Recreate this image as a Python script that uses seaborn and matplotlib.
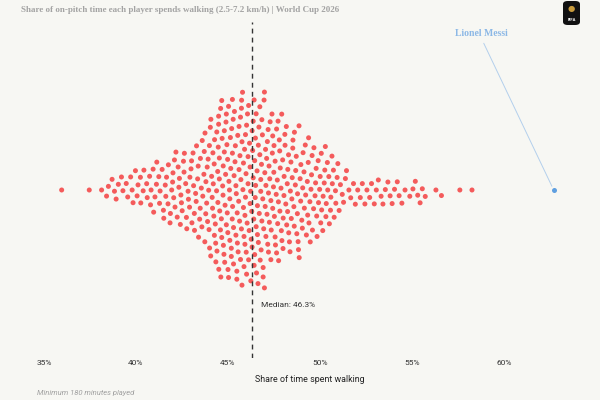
import numpy as np
import seaborn as sns
import matplotlib.pyplot as plt
from matplotlib.patches import FancyBboxPatch

# share of on-pitch time spent walking (%), one value per player
walk_share = [
    35.96, 37.46, 38.13, 38.40, 38.50, 38.70, 38.83, 38.92,
    39.04, 39.21, 39.29, 39.47, 39.55, 39.71, 39.79, 39.84, 39.97,
    40.06, 40.11, 40.24, 40.26, 40.39, 40.43, 40.58, 40.61, 40.74,
    40.79, 40.82, 40.93, 40.96,
    41.03, 41.11, 41.13, 41.24, 41.28, 41.31, 41.42, 41.49,
    41.51, 41.59, 41.62, 41.66, 41.74, 41.76, 41.85, 41.87, 41.94, 41.99,
    42.01, 42.05, 42.09, 42.12, 42.17, 42.24, 42.29, 42.33, 42.36, 42.41,
    42.44, 42.47,
    42.51, 42.58, 42.61, 42.63, 42.70, 42.74,
    42.76, 42.83, 42.85, 42.91, 42.93, 42.99,
    43.02, 43.04, 43.10, 43.13, 43.17, 43.18, 43.24,
    43.27, 43.29, 43.35, 43.38, 43.40, 43.46, 43.49,
    43.50, 43.55, 43.58, 43.60, 43.63, 43.69, 43.71, 43.74,
    43.75, 43.79, 43.80, 43.84, 43.87, 43.89, 43.92, 43.95, 43.97, 43.99,
    44.00, 44.04, 44.06, 44.07, 44.11, 44.14, 44.16, 44.18, 44.20, 44.23, 44.25,
    44.26, 44.27, 44.31, 44.33, 44.34, 44.38, 44.39, 44.40, 44.44, 44.45,
    44.47, 44.49, 44.49,
    44.50, 44.53, 44.53, 44.55, 44.59, 44.60, 44.61, 44.64, 44.66, 44.66,
    44.68, 44.71, 44.73, 44.74,
    44.75, 44.78, 44.80, 44.80, 44.82, 44.84, 44.87, 44.89, 44.91, 44.91,
    44.94, 44.96, 44.98, 44.99,
    45.00, 45.03, 45.03, 45.05, 45.08, 45.10, 45.10, 45.13, 45.15, 45.18,
    45.18, 45.20, 45.23, 45.24, 45.24,
    45.25, 45.28, 45.30, 45.30, 45.33, 45.35, 45.38, 45.40, 45.43, 45.43,
    45.45, 45.48, 45.48, 45.50,
    45.51, 45.53, 45.55, 45.58, 45.60, 45.60, 45.63, 45.65, 45.68, 45.68,
    45.70, 45.73, 45.73, 45.74,
    45.76, 45.76, 45.79, 45.81, 45.84, 45.84, 45.87, 45.87, 45.90, 45.92,
    45.92, 45.95, 45.95, 45.98, 45.99,
    46.01, 46.01, 46.04, 46.06, 46.09, 46.09, 46.12, 46.12, 46.15, 46.17,
    46.20, 46.20, 46.23, 46.24,
    46.26, 46.29, 46.31, 46.31, 46.34, 46.37, 46.37, 46.40,
    46.42, 46.42, 46.45, 46.45, 46.48, 46.49,
    46.50, 46.53, 46.53, 46.55, 46.58, 46.60, 46.60, 46.63, 46.65, 46.65,
    46.68, 46.70, 46.73, 46.73, 46.75,
    46.78, 46.78, 46.80, 46.82, 46.84, 46.84, 46.87, 46.89, 46.91, 46.91,
    46.94, 46.96, 46.98, 46.98,
    47.00, 47.02, 47.04, 47.06, 47.06, 47.10, 47.12, 47.14, 47.16, 47.18,
    47.20, 47.20, 47.23,
    47.25, 47.27, 47.29, 47.33, 47.33, 47.35, 47.39, 47.41, 47.43, 47.43,
    47.47, 47.49,
    47.50, 47.52, 47.56, 47.56, 47.58, 47.62, 47.64, 47.64, 47.68, 47.70,
    47.72, 47.74,
    47.75, 47.79, 47.81, 47.82, 47.84, 47.88, 47.90, 47.92, 47.93, 47.97, 47.99,
    48.00, 48.04, 48.05, 48.09, 48.10, 48.14, 48.17, 48.19, 48.22, 48.24,
    48.25, 48.29, 48.30, 48.34, 48.37, 48.39, 48.42, 48.44, 48.47, 48.49,
    48.52, 48.53, 48.58, 48.60, 48.61, 48.66, 48.68, 48.71, 48.74,
    48.77, 48.78, 48.81, 48.83, 48.86, 48.87, 48.92, 48.95, 48.96,
    49.01, 49.04, 49.06, 49.08, 49.13, 49.15, 49.20, 49.22,
    49.26, 49.31, 49.33, 49.36, 49.38, 49.40, 49.45, 49.47,
    49.51, 49.54, 49.57, 49.59, 49.65, 49.67, 49.73,
    49.76, 49.79, 49.82, 49.84, 49.90, 49.92, 49.98,
    50.01, 50.04, 50.07, 50.09, 50.15, 50.17, 50.23,
    50.26, 50.29, 50.32, 50.34, 50.40, 50.42, 50.48,
    50.51, 50.57, 50.59, 50.65, 50.67, 50.73,
    50.77, 50.84, 50.86, 50.93, 50.97,
    51.04, 51.11, 51.21, 51.28, 51.38, 51.44, 51.57, 51.67, 51.82, 51.92,
    52.05, 52.19, 52.30, 52.44, 52.55, 52.70, 52.80, 52.95,
    53.06, 53.17, 53.32, 53.42, 53.55, 53.69, 53.81, 53.92,
    54.05, 54.20, 54.30, 54.45, 54.62, 54.88,
    55.05, 55.18, 55.31, 55.44, 55.56, 55.72,
    56.30, 56.60, 57.60, 58.26,
]
messi_share = 62.7
median_share = 46.3
tick_values = [35, 40, 45, 50, 55, 60]
tick_labels = ['35%', '40%', '45%', '50%', '55%', '60%']

BG = '#f7f7f3'
RED = '#f45b5b'
BLUE = '#5f9fe0'

sns.set_theme(style='white')
plt.rcParams['font.family'] = ['Roboto', 'DejaVu Sans']

fig = plt.figure(figsize=(6, 4), dpi=100, facecolor=BG)
ax = fig.add_axes([0, 42 / 400, 1, 336 / 400], facecolor=BG)

# swarm of players; the edge width only widens the spacing between dots
sns.swarmplot(x=walk_share, ax=ax, color=RED, size=3.6, linewidth=1.9,
              edgecolor='none', zorder=3)
sns.scatterplot(x=[messi_share], y=[0], ax=ax, color=BLUE, s=3.6 ** 2,
                linewidth=0, zorder=3)

ax.set_xlim(32.609, 65.217)
ax.set_ylim(0.5, -0.5)

# median line
ax.axvline(median_share, color='#333333', lw=1, ls=(0, (3.5, 3)), zorder=5)
ax.text(median_share + 0.5, 0.158, f'Median: {median_share}%',
        transform=ax.get_xaxis_transform(), fontsize=6, color='#333333',
        va='center', ha='left')

# Messi label
ax.annotate('Lionel Messi', xy=(messi_share, 0), xycoords='data',
            xytext=(481, 367), textcoords='figure pixels',
            ha='center', va='center', fontsize=7, fontweight='bold',
            family='Liberation Serif', color='#8cb8e6',
            arrowprops=dict(arrowstyle='-', color='#b3cfec', lw=0.7,
                            shrinkA=2, shrinkB=3, relpos=(0.5, 0)))

ax.set_xticks(tick_values)
ax.set_xticklabels(tick_labels)
ax.tick_params(axis='x', length=0, pad=1.5, labelsize=6, labelcolor='#333333')
ax.set_yticks([])
ax.set_xlabel('Share of time spent walking', fontsize=6.4, color='#222222')
ax.xaxis.set_label_coords(0.516, -0.05)
for s in ax.spines.values():
    s.set_visible(False)

fig.text(21 / 600, 1 - 10 / 400,
         'Share of on-pitch time each player spends walking (2.5-7.2 km/h) | World Cup 2026',
         fontsize=6.5, fontweight='bold', family='Liberation Serif',
         color='#a3a3a3', va='center', ha='left')
fig.text(37 / 600, 1 - 393 / 400, 'Minimum 180 minutes played',
         fontsize=5.5, style='italic', color='#a0a0a0', va='center', ha='left')

# small tournament badge, top right
badge = FancyBboxPatch((563 / 600, 1 - 25 / 400), 17 / 600, 24 / 400,
                       boxstyle='round,pad=0,rounding_size=0.008',
                       transform=fig.transFigure, facecolor='#111111',
                       edgecolor='none')
fig.patches.append(badge)
fig.text(571.5 / 600, 1 - 9 / 400, '●', fontsize=6, color='#c89b3c',
         ha='center', va='center')
fig.text(571.5 / 600, 1 - 20 / 400, 'FIFA', fontsize=3, color='white',
         ha='center', va='center', fontweight='bold')

fig.savefig('out.png', dpi=100, facecolor=BG)
